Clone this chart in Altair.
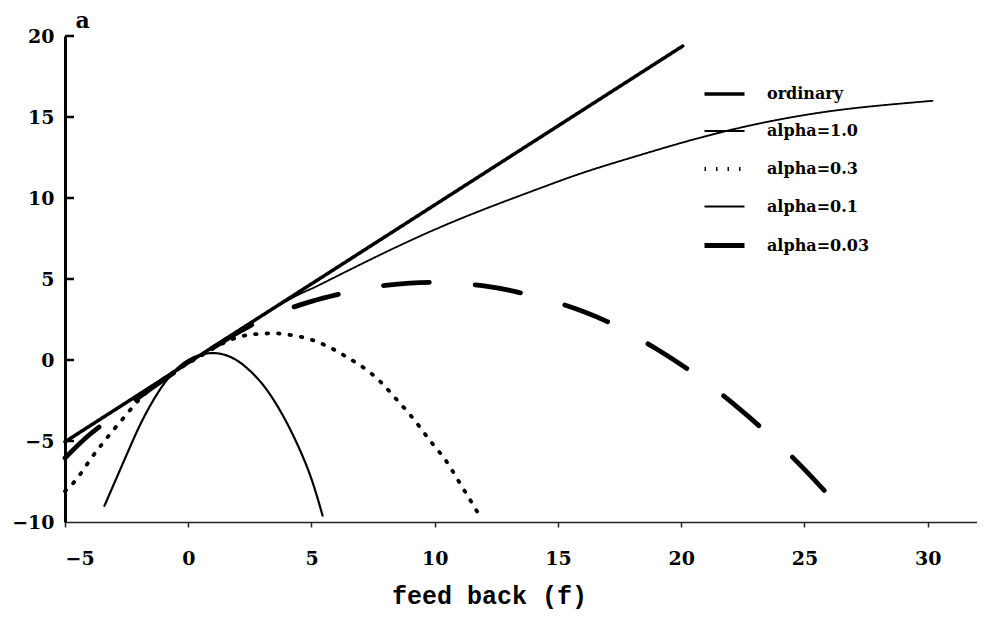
import altair as alt
import pandas as pd

# ---- data ----
series_names = ["ordinary", "alpha=1.0", "alpha=0.3", "alpha=0.1", "alpha=0.03"]

ord_x = [-5.0, 20.06]
ord_y = [-5.05, 19.38]

a10_x = [-5, -2, 0, 2, 4, 5, 6, 8, 10, 12, 14, 16, 18, 20, 22, 24, 26, 28, 30.2]
a10_y = [-5.1, -2.1, -0.15, 1.8, 3.65, 4.4, 5.15, 6.65, 8.05, 9.3, 10.45, 11.55,
         12.5, 13.4, 14.2, 14.85, 15.35, 15.7, 16.0]

a03_x = [-5, -4.5, -4, -3.5, -3, -2.5, -2, -1.5, -1, -0.5, 0, 0.5, 1, 1.5, 2, 2.5,
         3, 3.5, 4, 4.5, 5, 5.5, 6, 6.5, 7, 7.5, 7.95, 8.4, 8.9, 9.4, 9.9, 10.4,
         10.9, 11.4, 11.9]
a03_y = [-8.1, -7.3, -6.2, -5.2, -4.25, -3.35, -2.45, -1.75, -1.15, -0.65, -0.2,
         0.25, 0.7, 1.1, 1.4, 1.56, 1.62, 1.65, 1.58, 1.45, 1.25, 0.95, 0.57, 0.12,
         -0.35, -0.93, -1.58, -2.35, -3.2, -4.15, -5.15, -6.1, -7.3, -8.55, -9.8]

a01_x = [-3.4, -3, -2.5, -2, -1.5, -1, -0.5, 0, 0.5, 1, 1.5, 2, 2.5, 3, 3.5, 4,
         4.5, 5, 5.45]
a01_y = [-9.0, -7.6, -5.85, -4.15, -2.7, -1.5, -0.6, 0.0, 0.32, 0.43, 0.31, -0.05,
         -0.66, -1.47, -2.55, -3.88, -5.45, -7.35, -9.6]

a003_x = [-5, -4, -3, -2, -1, 0, 1, 2, 3, 4, 5, 6, 7, 8, 9, 10, 11, 12, 13, 14,
          15, 16, 17, 18, 19, 20, 21, 22, 23, 24, 25, 25.8]
a003_y = [-6.05, -4.6, -3.45, -2.3, -1.22, -0.2, 0.75, 1.68, 2.5, 3.12, 3.62, 4.02,
          4.37, 4.61, 4.75, 4.8, 4.74, 4.57, 4.31, 3.95, 3.53, 3.01, 2.37, 1.56,
          0.68, -0.29, -1.34, -2.56, -3.85, -5.24, -6.75, -8.05]

x_ticks = [-5, 0, 5, 10, 15, 20, 25, 30]
y_ticks = [-10, -5, 0, 5, 10, 15, 20]
y_inner_ticks = [-5, 0, 5, 10, 15, 20]

# ---- build table ----
rows = []
for name, xs, ys in [
    ("ordinary", ord_x, ord_y),
    ("alpha=1.0", a10_x, a10_y),
    ("alpha=0.3", a03_x, a03_y),
    ("alpha=0.1", a01_x, a01_y),
    ("alpha=0.03", a003_x, a003_y),
]:
    for xv, yv in zip(xs, ys):
        rows.append({"series": name, "f": xv, "a": yv})
df = pd.DataFrame(rows)
ticks_df = pd.DataFrame({"a": y_inner_ticks})

x_scale = alt.Scale(domain=[-5, 32], nice=False, zero=False)
y_scale = alt.Scale(domain=[-10, 20], nice=False, zero=False)

legend = alt.Legend(
    orient="none", legendX=637, legendY=36, title=None,
    symbolType="stroke", symbolSize=1600, symbolStrokeColor="black",
    labelFont="DejaVu Serif", labelFontWeight="bold", labelFontSize=16,
    labelColor="black", labelOffset=20, rowPadding=8, padding=0,
)

lines = alt.Chart(df).mark_line(color="black", strokeCap="round",
                                interpolate="natural").encode(
    x=alt.X("f:Q", scale=x_scale,
            axis=alt.Axis(values=x_ticks, title="feed back (f)",
                          titleFont="Liberation Mono", titleFontSize=25,
                          titleFontWeight="bold", titleColor="black",
                          titleX=424, titleY=73, titleAlign="center",
                          titleBaseline="middle",
                          domainColor="#222", domainWidth=1.5,
                          tickColor="#222", tickSize=5, tickWidth=1.5,
                          labelPadding=22)),
    y=alt.Y("a:Q", scale=y_scale,
            axis=alt.Axis(values=y_ticks, title="a", titleAngle=0,
                          titleX=17, titleY=-16, titleAlign="center",
                          titleBaseline="middle", titleFont="DejaVu Serif",
                          titleFontSize=22, titleFontWeight="bold",
                          titleColor="black", domainColor="black",
                          domainWidth=3, ticks=False, labelPadding=11)),
    strokeDash=alt.StrokeDash("series:N",
                              scale=alt.Scale(type="ordinal", domain=series_names,
                                              range=[[1, 0], [1, 0], [1.5, 10],
                                                     [1, 0], [46, 46]]),
                              legend=legend),
    strokeWidth=alt.StrokeWidth("series:N",
                                scale=alt.Scale(type="ordinal", domain=series_names,
                                                range=[3.5, 1.8, 3.8, 2.2, 4.8]),
                                legend=legend),
    detail="series:N",
)

inner_ticks = alt.Chart(ticks_df).mark_rule(color="black", strokeWidth=2.5).encode(
    y=alt.Y("a:Q", scale=y_scale),
    x=alt.value(0),
    x2=alt.value(9),
)

chart = alt.layer(lines, inner_ticks).properties(
    width=912, height=486,
    autosize=alt.AutoSizeParams(type="none"),
    padding={"left": 57, "top": 28, "right": 0, "bottom": 95},
).configure_view(stroke=None).configure_axis(
    grid=False, labelFont="DejaVu Serif", labelFontWeight="bold",
    labelFontSize=19, labelColor="black",
)

chart.save("out.html", embed_options={"renderer": "svg", "actions": False})
